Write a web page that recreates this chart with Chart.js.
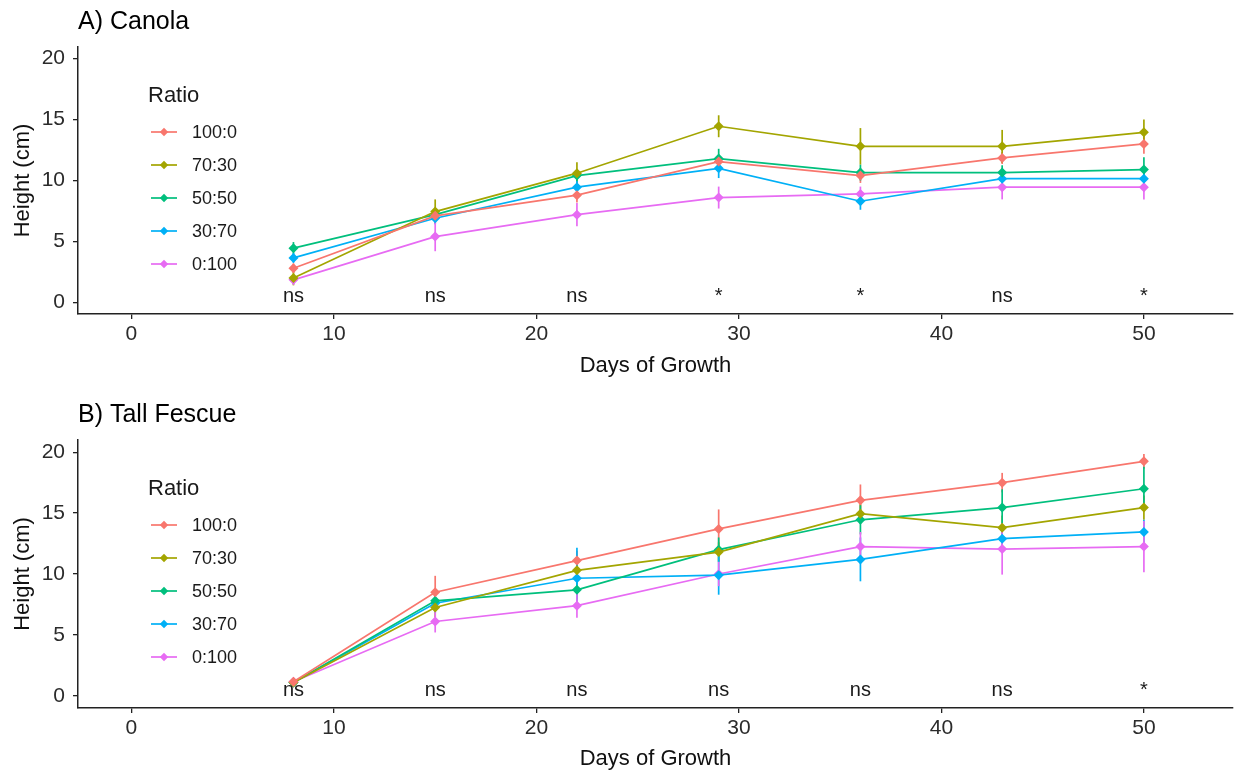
<!DOCTYPE html>
<html lang="en">
<head>
    <meta charset="UTF-8">
    <title>Height by Ratio: Canola and Tall Fescue</title>
    <script src="https://cdn.jsdelivr.net/npm/chart.js"></script>
    <style>
        body { margin: 0; background: #fff; }
        .panel { position: absolute; left: 0; width: 1238px; height: 388px; }
    </style>
</head>
<body>
    <div class="panel" style="top:0"><canvas id="canolaChart"></canvas></div>
    <div class="panel" style="top:388px"><canvas id="fescueChart"></canvas></div>

    <script>
        // Data
        const DAYS = [8, 15, 22, 29, 36, 43, 50];
        const RATIOS = ['100:0', '70:30', '50:50', '30:70', '0:100'];
        const X_TICKS = [0, 10, 20, 30, 40, 50];
        const Y_TICKS = [0, 5, 10, 15, 20];

        // A) Canola - mean height (cm) and error
        const canola100 = [2.8, 7.1, 8.8, 11.55, 10.4, 11.85, 13.0];
        const canola70 = [2.0, 7.45, 10.6, 14.45, 12.8, 12.8, 13.95];
        const canola50 = [4.45, 7.2, 10.4, 11.8, 10.65, 10.65, 10.9];
        const canola30 = [3.65, 6.9, 9.45, 11.0, 8.3, 10.15, 10.15];
        const canola0 = [1.85, 5.4, 7.2, 8.6, 8.9, 9.45, 9.45];
        const canolaErr100 = [0.4, 0.5, 0.6, 0.5, 0.6, 0.5, 0.8];
        const canolaErr70 = [0.6, 1.0, 0.9, 0.9, 1.5, 1.35, 1.05];
        const canolaErr50 = [0.5, 0.5, 0.5, 0.8, 0.65, 0.6, 1.0];
        const canolaErr30 = [0.4, 0.5, 0.5, 0.8, 0.7, 0.5, 0.5];
        const canolaErr0 = [0.4, 1.2, 0.95, 0.9, 0.6, 1.0, 1.0];
        const canolaSig = ['ns', 'ns', 'ns', '*', '*', 'ns', '*'];

        // B) Tall Fescue - mean height (cm) and error
        const fescue100 = [1.15, 8.5, 11.1, 13.7, 16.05, 17.5, 19.25];
        const fescue70 = [1.1, 7.25, 10.3, 11.8, 14.95, 13.8, 15.45];
        const fescue50 = [1.1, 7.8, 8.7, 12.0, 14.45, 15.45, 17.0];
        const fescue30 = [1.1, 7.6, 9.65, 9.9, 11.2, 12.9, 13.45];
        const fescue0 = [1.15, 6.1, 7.4, 10.0, 12.25, 12.05, 12.25];
        const fescueErr100 = [0.2, 1.35, 0.8, 1.6, 1.3, 0.8, 0.6];
        const fescueErr70 = [0.2, 0.8, 0.8, 0.8, 0.8, 1.0, 1.0];
        const fescueErr50 = [0.2, 0.7, 0.8, 1.0, 1.2, 1.5, 1.8];
        const fescueErr30 = [0.2, 0.8, 2.5, 1.6, 1.8, 1.0, 1.0];
        const fescueErr0 = [0.2, 0.9, 1.0, 1.0, 1.2, 2.1, 2.1];
        const fescueSig = ['ns', 'ns', 'ns', 'ns', 'ns', 'ns', '*'];

        const COLORS = ['#F8766D', '#A3A500', '#00BF7D', '#00B0F6', '#E76BF3'];
        const FONT = '"Liberation Sans", Arial, sans-serif';

        // error bars, significance labels, legend and panel title
        const extras = {
            id: 'extras',
            beforeDatasetsDraw(chart) {
                const ctx = chart.ctx, x = chart.scales.x, y = chart.scales.y;
                ctx.save();
                ctx.lineWidth = 1.7;
                chart.data.datasets.forEach(ds => {
                    ctx.strokeStyle = ds.borderColor;
                    ds.data.forEach((p, j) => {
                        const px = x.getPixelForValue(p.x);
                        ctx.beginPath();
                        ctx.moveTo(px, y.getPixelForValue(p.y - ds.errs[j]));
                        ctx.lineTo(px, y.getPixelForValue(p.y + ds.errs[j]));
                        ctx.stroke();
                    });
                });
                ctx.restore();
            },
            afterDatasetsDraw(chart, args, opts) {
                const ctx = chart.ctx, x = chart.scales.x, y = chart.scales.y;
                const top = chart.chartArea.top;
                ctx.save();
                // significance labels
                ctx.fillStyle = '#1a1a1a';
                ctx.font = '20px ' + FONT;
                ctx.textAlign = 'center';
                ctx.textBaseline = 'alphabetic';
                opts.sig.forEach((s, j) => {
                    ctx.fillText(s, x.getPixelForValue(DAYS[j]), y.getPixelForValue(0));
                });
                // legend
                ctx.textAlign = 'left';
                ctx.textBaseline = 'middle';
                ctx.font = '22px ' + FONT;
                ctx.fillText('Ratio', 148, top + 48.5);
                ctx.font = '18px ' + FONT;
                RATIOS.forEach((r, i) => {
                    const ry = top + 85 + 33 * i;
                    ctx.strokeStyle = COLORS[i];
                    ctx.fillStyle = COLORS[i];
                    ctx.lineWidth = 1.7;
                    ctx.beginPath();
                    ctx.moveTo(151, ry);
                    ctx.lineTo(177, ry);
                    ctx.stroke();
                    Chart.helpers.drawPoint(ctx, {pointStyle: 'rectRot', radius: 4.2, borderWidth: 0}, 164, ry);
                    ctx.fillStyle = '#1a1a1a';
                    ctx.fillText(r, 192, ry + 1);
                });
                // panel title
                ctx.fillStyle = '#000';
                ctx.font = '25px ' + FONT;
                ctx.fillText(opts.title, 78, top - 25);
                ctx.restore();
            }
        };

        function makeChart(id, means, errs, sig, title, cfg) {
            const datasets = means.map((m, i) => ({
                label: RATIOS[i],
                data: DAYS.map((d, j) => ({x: d, y: m[j]})),
                errs: errs[i],
                borderColor: COLORS[i],
                backgroundColor: COLORS[i],
                borderWidth: 1.7,
                pointStyle: 'rectRot',
                pointRadius: 5,
                pointHoverRadius: 5,
                pointBorderWidth: 0,
                tension: 0
            }));

            return new Chart(document.getElementById(id), {
                type: 'line',
                data: { datasets },
                plugins: [extras],
                options: {
                    responsive: true,
                    maintainAspectRatio: false,
                    animation: false,
                    layout: { padding: { top: cfg.top, right: 5, left: 0, bottom: 0 } },
                    plugins: {
                        legend: { display: false },
                        tooltip: { enabled: false },
                        extras: { sig, title }
                    },
                    scales: {
                        x: {
                            type: 'linear',
                            min: -2.64,
                            max: 54.4,
                            afterBuildTicks: s => { s.ticks = X_TICKS.map(v => ({value: v})); },
                            afterFit: s => { s.height = cfg.xHeight; },
                            grid: { display: true, drawOnChartArea: false, drawTicks: true, tickLength: 5, color: '#222', lineWidth: 1.3 },
                            border: { display: true, color: '#222', width: 1.5 },
                            ticks: { font: { size: 21, family: FONT }, color: '#2b2b2b', padding: 3, maxRotation: 0, autoSkip: false },
                            title: { display: true, text: 'Days of Growth', font: { size: 22, family: FONT }, color: '#111', padding: { top: 0, bottom: cfg.titlePad } }
                        },
                        y: {
                            min: cfg.yMin,
                            max: cfg.yMax,
                            afterBuildTicks: s => { s.ticks = Y_TICKS.map(v => ({value: v})); },
                            afterFit: s => { s.width = 78; },
                            grid: { display: true, drawOnChartArea: false, drawTicks: true, tickLength: 5, color: '#222', lineWidth: 1.3 },
                            border: { display: true, color: '#222', width: 1.5 },
                            ticks: { font: { size: 21, family: FONT }, color: '#2b2b2b', padding: 8 },
                            title: { display: true, text: 'Height (cm)', font: { size: 22, family: FONT }, color: '#111', padding: { top: 10, bottom: 0 } }
                        }
                    }
                }
            });
        }

        makeChart('canolaChart',
            [canola100, canola70, canola50, canola30, canola0],
            [canolaErr100, canolaErr70, canolaErr50, canolaErr30, canolaErr0],
            canolaSig, 'A) Canola',
            { top: 47, xHeight: 74, titlePad: 9, yMin: -0.95, yMax: 20.95 });

        makeChart('fescueChart',
            [fescue100, fescue70, fescue50, fescue30, fescue0],
            [fescueErr100, fescueErr70, fescueErr50, fescueErr30, fescueErr0],
            fescueSig, 'B) Tall Fescue',
            { top: 52, xHeight: 68, titlePad: 4, yMin: -1, yMax: 21 });
    </script>
</body>
</html>
